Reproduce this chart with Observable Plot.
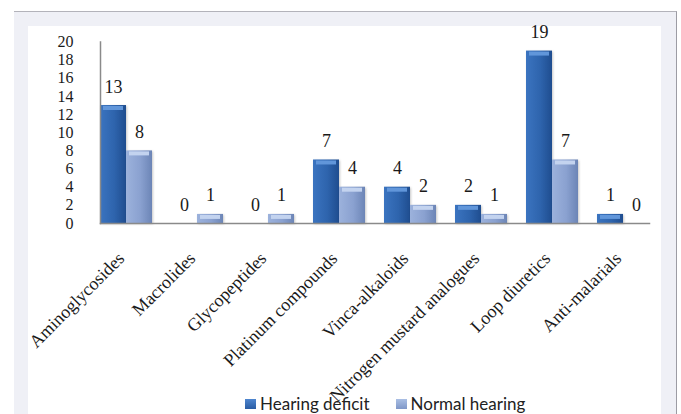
<!DOCTYPE html>
<html>
<head>
<meta charset="utf-8">
<script src="https://cdn.jsdelivr.net/npm/d3@7"></script>
<script src="https://cdn.jsdelivr.net/npm/@observablehq/plot@0.6"></script>
<style>
  html, body { margin: 0; padding: 0; background: #fff; }
  #wrap { position: relative; width: 681px; height: 414px; overflow: hidden; background: #fff; }
  #outer { position: absolute; left: 14px; top: 11px; width: 662px; height: 403px;
           background: #eff0f6; border-top: 1px solid #b3b3ba; border-right: 1px solid #9c9ca4; }
  #inner { position: absolute; left: 28px; top: 26px; width: 633px; height: 388px; background: #fff; }
  #chart { position: absolute; left: 0; top: 0; }
  #chart g[aria-label="bar"] rect { filter: drop-shadow(1px 1.5px 1px rgba(0, 0, 0, 0.22)); }
  #legend { position: absolute; left: 245px; top: 393.5px; font-family: Lato, "Open Sans", sans-serif;
            font-size: 17px; line-height: 20px; color: #222; white-space: nowrap; display: flex; align-items: center; }
  #legend .item { display: inline-flex; align-items: center; }
  #legend .item + .item { margin-left: 26px; }
  #legend .sw { width: 11px; height: 10px; margin-right: 4px; box-sizing: border-box; }
</style>
</head>
<body>
<div id="wrap">
  <div id="outer"></div>
  <div id="inner"></div>
  <div id="chart"></div>
  <div id="legend"></div>
</div>
<script>
// Ototoxic drug classes and patient counts by hearing outcome
const categories = [
  "Aminoglycosides", "Macrolides", "Glycopeptides", "Platinum compounds",
  "Vinca-alkaloids", "Nitrogen mustard analogues", "Loop diuretics", "Anti-malarials"
];
const hearingDeficit = [13, 0, 0, 7, 4, 2, 19, 1];
const normalHearing  = [8, 1, 1, 4, 2, 1, 7, 0];
const seriesNames = ["Hearing deficit", "Normal hearing"];
const yTicks = [0, 2, 4, 6, 8, 10, 12, 14, 16, 18, 20];

// Long format table: one row per class and outcome
const rows = categories.flatMap((category, i) => [
  {category, series: seriesNames[0], value: hearingDeficit[i]},
  {category, series: seriesNames[1], value: normalHearing[i]}
]);

const serif = "'Liberation Serif', 'Times New Roman', serif";
const bevel = {"Hearing deficit": "#6196da", "Normal hearing": "#c3d3ef"};

const chart = Plot.plot({
  width: 681,
  height: 414,
  marginLeft: 90,
  marginRight: 22,
  marginTop: 41.5,
  marginBottom: 191,
  style: {background: "transparent", color: "#1a1a1a", overflow: "visible", fontFamily: serif},
  fx: {domain: categories, paddingInner: 0.27, paddingOuter: 0.135, label: null},
  x: {domain: seriesNames, padding: 0, axis: null},
  y: {domain: [0, 20], label: null},
  color: {domain: seriesNames, range: ["url(#grad-deficit)", "url(#grad-normal)"]},
  marks: [
    Plot.axisY({ticks: yTicks, tickSize: 0, tickPadding: 27, fontSize: 16, fontFamily: serif, label: null}),
    Plot.axisFx({anchor: "bottom", tickSize: 0, tickRotate: -45, tickPadding: 32, dx: -5, fontSize: 18,
      fontFamily: serif, label: null}),
    Plot.barY(rows, {fx: "category", x: "series", y: "value", fill: "series"}),
    ...seriesNames.map(s => Plot.tickY(rows.filter(d => d.series === s && d.value > 0), {
      fx: "category", x: "series", y: "value", stroke: bevel[s], strokeWidth: 4, dy: 2.5, inset: 3
    })),
    Plot.text(rows, {fx: "category", x: "series", y: "value", text: "value", lineAnchor: "bottom",
      dy: -13, fontSize: 18, fontFamily: serif, fill: "#1a1a1a"}),
    // Axis lines along the bottom and left edges of the whole plotting area
    Plot.frame({anchor: "bottom", facet: "super", stroke: "#8a8a8a", strokeWidth: 1.5}),
    Plot.frame({anchor: "left", facet: "super", stroke: "#8a8a8a", strokeWidth: 1.5})
  ]
});

// Bevelled bar fills
const ns = "http://www.w3.org/2000/svg";
const defs = document.createElementNS(ns, "defs");
const gradients = {
  "grad-deficit": [["0", "#3b74c0"], ["0.55", "#2e64ad"], ["1", "#1f4d8f"]],
  "grad-normal": [["0", "#9cb2dc"], ["0.55", "#8aa1d0"], ["1", "#6c85b6"]]
};
for (const [id, stops] of Object.entries(gradients)) {
  const g = document.createElementNS(ns, "linearGradient");
  g.setAttribute("id", id);
  g.setAttribute("x1", "0"); g.setAttribute("x2", "1");
  g.setAttribute("y1", "0"); g.setAttribute("y2", "0");
  for (const [offset, colour] of stops) {
    const st = document.createElementNS(ns, "stop");
    st.setAttribute("offset", offset);
    st.setAttribute("stop-color", colour);
    g.appendChild(st);
  }
  defs.appendChild(g);
}
chart.insertBefore(defs, chart.firstChild);
document.getElementById("chart").appendChild(chart);

// Legend
const swatch = {"Hearing deficit": "linear-gradient(#4f86cf, #2a5ca3)", "Normal hearing": "linear-gradient(#aabfe4, #7f97c8)"};
const legend = document.getElementById("legend");
for (const s of seriesNames) {
  const item = document.createElement("span");
  item.className = "item";
  const sw = document.createElement("span");
  sw.className = "sw";
  sw.style.background = swatch[s];
  const label = document.createElement("span");
  label.textContent = s;
  item.append(sw, label);
  legend.appendChild(item);
}
</script>
</body>
</html>
